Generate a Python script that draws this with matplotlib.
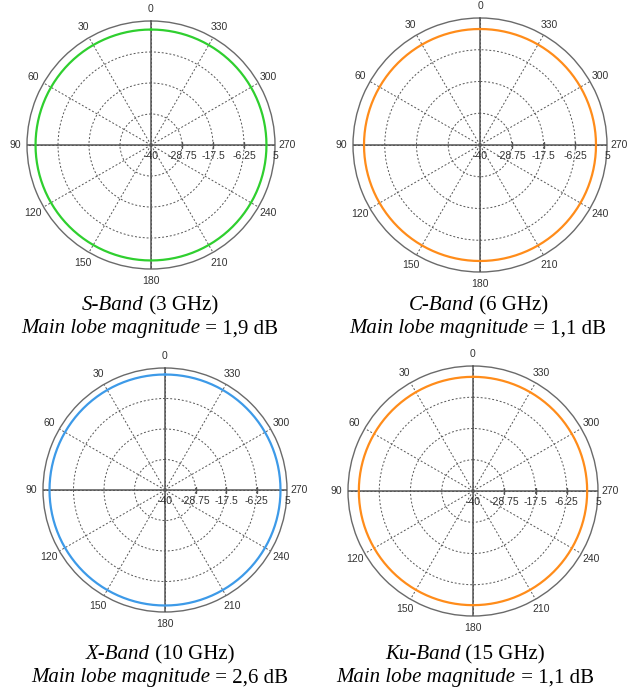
import numpy as np
import matplotlib.pyplot as plt
from matplotlib.offsetbox import TextArea, HPacker, VPacker, AnnotationBbox

# radiation pattern of the antenna at each band (omnidirectional main lobe, dB)
bands = ['S-Band', 'C-Band', 'X-Band', 'Ku-Band']
freqs = ['(3 GHz)', '(6 GHz)', '(10 GHz)', '(15 GHz)']
gain_db = [1.9, 1.1, 2.6, 1.1]
gain_text = ['1,9', '1,1', '2,6', '1,1']
colors = ['#2fcf2f', '#ff8c1a', '#3d9ae8', '#ff8c1a']

r_ticks = [-40, -28.75, -17.5, -6.25, 5]
r_labels = ['-40', '-28.75', '-17.5', '-6.25', '5']
theta_ticks = list(range(0, 360, 30))
theta_labels = [str(t) for t in theta_ticks]

W, H = 634, 691
# axes boxes in pixels: left, top, size
boxes = [(27, 21, 248), (353, 18, 254), (43, 368, 244), (348, 366, 250)]
captions_xy = [(150, 317), (478, 317), (160, 666), (465, 666)]

fig = plt.figure(figsize=(W / 100, H / 100), dpi=100)

theta = np.linspace(0, 2 * np.pi, 361)

for i in range(4):
    left, top, size = boxes[i]
    ax = fig.add_axes([left / W, (H - top - size) / H, size / W, size / H], projection='polar')
    ax.set_theta_zero_location('N')
    ax.set_theta_direction(1)
    ax.set_ylim(-40, 5)

    ax.set_rgrids(r_ticks[1:-1], labels=[''] * 3)
    ax.set_thetagrids(theta_ticks, theta_labels)
    ax.tick_params(axis='x', labelsize=7.5, colors='#333333', pad=-2)
    for lbl in ax.get_xticklabels():
        lbl.set_fontfamily('Liberation Sans')
    ax.grid(True, color='#555555', linestyle=(0, (2, 2)), linewidth=0.7)
    ax.spines['polar'].set_color('#6a6a6a')
    ax.spines['polar'].set_linewidth(1.0)

    # solid cross through the centre
    ax.plot([0.5, 0.5], [0, 1], transform=ax.transAxes, color='#555555', lw=1.1, zorder=3)
    ax.plot([0, 1], [0.5, 0.5], transform=ax.transAxes, color='#555555', lw=1.1, zorder=3)
    ax.plot([np.deg2rad(270)] * 3, r_ticks[1:-1], ls='none', marker='|', ms=5,
            color='#555555', zorder=3)

    # radial scale written under the 270 direction
    for r, lab in zip(r_ticks, r_labels):
        ax.annotate(lab, xy=(np.deg2rad(270), r), xytext=(0, -4), textcoords='offset points',
                    ha='center', va='top', fontsize=7.5, color='#333333',
                    family='Liberation Sans', zorder=4)

    ax.plot(theta, np.full_like(theta, gain_db[i]), color=colors[i], lw=1.6, zorder=5)

    # caption under the plot
    serif = dict(family='Liberation Serif', size=15, color='black')
    serif_it = dict(serif, style='italic')
    line1 = HPacker(children=[TextArea(bands[i], textprops=serif_it),
                              TextArea(' ' + freqs[i], textprops=serif)],
                    pad=0, sep=0, align='baseline')
    line2 = HPacker(children=[TextArea('Main lobe magnitude', textprops=serif_it),
                              TextArea(' = ' + gain_text[i] + ' dB', textprops=serif)],
                    pad=0, sep=0, align='baseline')
    block = VPacker(children=[line1, line2], pad=0, sep=3, align='center')
    cx, cy = captions_xy[i]
    fig.add_artist(AnnotationBbox(block, (cx / W, 1 - cy / H), xycoords='figure fraction',
                                  frameon=False, box_alignment=(0.5, 0.5)))

fig.savefig('out.png', dpi=100)
